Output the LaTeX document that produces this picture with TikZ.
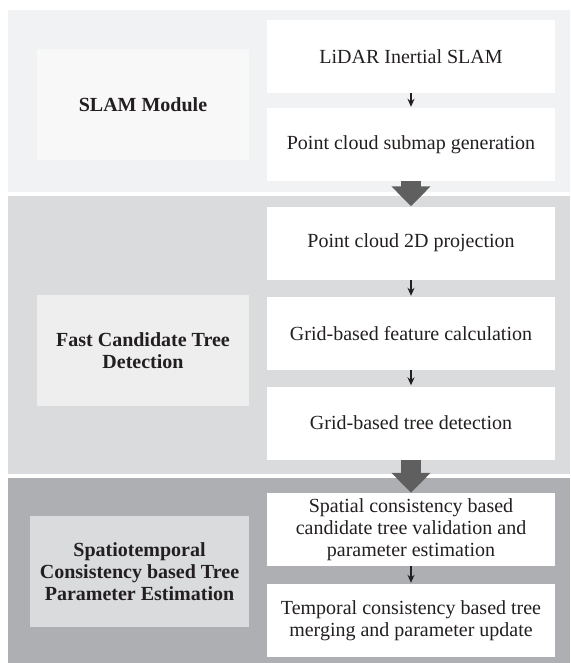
\documentclass[tikz,border=0pt]{standalone}
\usepackage{fontspec}
\setmainfont{Liberation Serif}
\usetikzlibrary{arrows.meta}
\definecolor{bandone}{HTML}{F1F2F4}
\definecolor{bandtwo}{HTML}{DADBDD}
\definecolor{bandthree}{HTML}{AEAFB2}
\definecolor{labelone}{HTML}{F8F8F8}
\definecolor{labeltwo}{HTML}{EEEEEE}
\definecolor{labelthree}{HTML}{DADBDD}
\definecolor{arrowgray}{HTML}{5F5F5F}
\definecolor{txt}{HTML}{231F20}
\begin{document}
\begin{tikzpicture}[x=1pt,y=-1pt,
	stepbox/.style={fill=white,minimum width=288pt,minimum height=73pt,inner sep=0pt,
		align=center,text=txt,font=\fontsize{20}{22}\selectfont},
	headbox/.style={minimum width=212pt,minimum height=111pt,inner sep=0pt,
		align=center,text=txt,font=\fontsize{20}{21.7}\selectfont\bfseries},
	flowarrow/.style={draw=txt,line width=1.3pt,-{Stealth[length=8pt,width=7pt]},shorten >=1pt},
	bigarrow/.style={draw=arrowgray,line width=20pt,-{Triangle[length=20pt,width=38pt]}}]
		\useasboundingbox (0,0) rectangle (570,663);
		% bands
		\fill[bandone] (8,10) rectangle (570,192);
		\fill[bandtwo] (8,196) rectangle (570,474);
		\fill[bandthree] (8,478) rectangle (570,663);
		% module labels
		\node[headbox,fill=labelone] (slam) at (143,104.5) {SLAM Module};
		\node[headbox,fill=labeltwo] (fast) at (143,350.5) {Fast Candidate Tree\\Detection};
		\node[headbox,fill=labelthree,minimum width=219pt] (spatio) at (139.5,571.5) {Spatiotemporal\\Consistency based Tree\\Parameter Estimation};
		% steps
		\node[stepbox] (lidar) at (411,56.5) {LiDAR Inertial SLAM};
		\node[stepbox] (submap) at (411,144.5) {Point cloud submap generation};
		\node[stepbox] (proj) at (411,243) {Point cloud 2D projection};
		\node[stepbox] (feat) at (411,333.5) {Grid-based feature calculation};
		\node[stepbox] (det) at (411,423) {Grid-based tree detection};
		\node[stepbox] (spatial) at (411,529.5) {Spatial consistency based\\candidate tree validation and\\parameter estimation};
		\node[stepbox] (temporal) at (411,620.5) {Temporal consistency based tree\\merging and parameter update};
		% arrows
		\draw[flowarrow] (lidar.south) -- (submap.north);
		\draw[flowarrow] (proj.south) -- (feat.north);
		\draw[flowarrow] (feat.south) -- (det.north);
		\draw[flowarrow] (spatial.south) -- (temporal.north);
		\draw[bigarrow] (submap.south) -- (proj.north);
		\draw[bigarrow] (det.south) -- (spatial.north);
		\end{tikzpicture}
\end{document}
